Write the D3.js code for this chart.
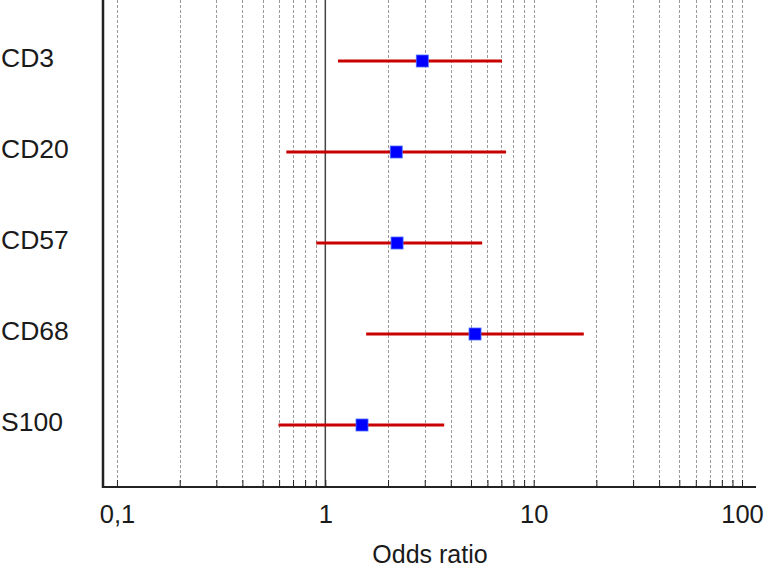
<!DOCTYPE html>
<html><head><meta charset="utf-8">
<script src="https://cdn.jsdelivr.net/npm/d3@7"></script>
<style>body{margin:0;background:#fff}svg{display:block}text{font-family:Arial,"Liberation Sans",sans-serif}</style>
</head><body>
<svg id="c" width="767" height="567"></svg>
<script>
const categories = ["CD3","CD20","CD57","CD68","S100"];
const oddsRatio = [2.92, 2.19, 2.21, 5.23, 1.50];
const lowerCI = [1.15, 0.65, 0.905, 1.57, 0.596];
const upperCI = [7.05, 7.37, 5.66, 17.4, 3.72];
const tickValues = [0.1, 1, 10, 100];
const tickLabels = ["0,1", "1", "10", "100"];
const xTitle = "Odds ratio";

(function () {
const svg = d3.select("#c");
const mL = 103, mR = 756, mT = 0, mB = 487;
const x = d3.scaleLog().domain([0.0857, 116.7]).range([mL, mR]);
const y = d3.scalePoint().domain(categories).range([61, 425]);

const grid = [];
[0.1, 1, 10].forEach(d => { for (let k = 1; k <= 9; k++) grid.push(+(d * k).toPrecision(3)); });
grid.push(100);

svg.append("g").selectAll("line").data(grid.filter(v => v !== 1)).join("line")
  .attr("x1", d => Math.round(x(d)) + 0.5).attr("x2", d => Math.round(x(d)) + 0.5)
  .attr("y1", mT).attr("y2", mB)
  .attr("stroke", "#9a9a9a").attr("stroke-width", 1).attr("stroke-dasharray", "3,2");

svg.append("line").attr("x1", x(1)).attr("x2", x(1)).attr("y1", mT).attr("y2", mB)
  .attr("stroke", "#444").attr("stroke-width", 1.5);

const axis = d3.axisBottom(x).tickValues(grid).tickSize(-7).tickFormat(d => {
  const i = tickValues.indexOf(d); return i >= 0 ? tickLabels[i] : "";
}).tickPadding(18);
const ag = svg.append("g").attr("transform", `translate(0,${mB})`).call(axis);
ag.select(".domain").attr("stroke", "#222").attr("stroke-width", 2).attr("d", `M${mL},0H${mR}`);
ag.selectAll(".tick line").attr("stroke", "#222").attr("stroke-width", 1);
ag.selectAll(".tick text").attr("font-size", 25.5).attr("fill", "#1a1a1a")
  .attr("font-family", "Arial, 'Liberation Sans', sans-serif");

svg.append("line").attr("x1", mL).attr("x2", mL).attr("y1", mT).attr("y2", mB + 1)
  .attr("stroke", "#222").attr("stroke-width", 2.5);

svg.append("text").attr("x", 430).attr("y", 563).attr("text-anchor", "middle")
  .attr("font-size", 25).attr("fill", "#1a1a1a").text(xTitle);

svg.append("g").selectAll("text").data(categories).join("text")
  .attr("x", 1).attr("y", d => y(d) + 6)
  .attr("font-size", 26.5).attr("fill", "#1a1a1a").text(d => d);

svg.append("g").selectAll("line").data(categories).join("line")
  .attr("x1", (d, i) => x(lowerCI[i])).attr("x2", (d, i) => x(upperCI[i]))
  .attr("y1", d => y(d)).attr("y2", d => y(d))
  .attr("stroke", "#c80000").attr("stroke-width", 3);

const s = 12;
svg.append("g").selectAll("rect").data(categories).join("rect")
  .attr("x", (d, i) => x(oddsRatio[i]) - s / 2).attr("y", d => y(d) - s / 2)
  .attr("width", s).attr("height", s)
  .attr("fill", "#0000ff").attr("stroke", "#4a6cff").attr("stroke-width", 0.8);
})();
</script>
</body></html>
